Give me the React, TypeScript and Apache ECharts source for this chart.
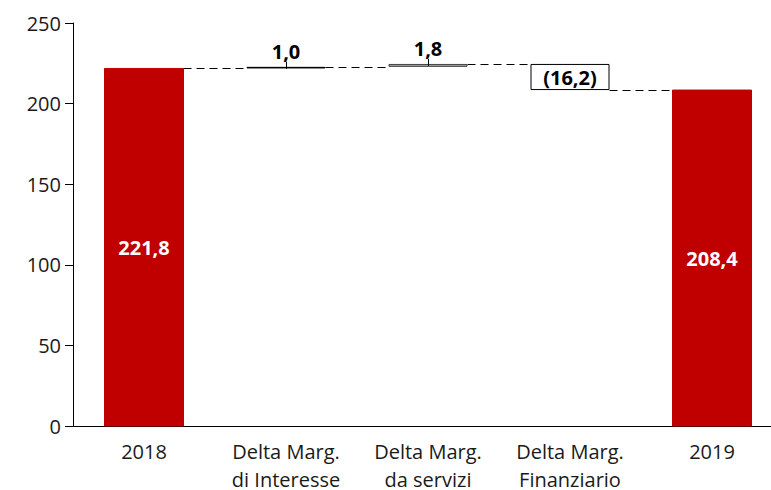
import React, { useEffect, useRef } from "react";
import * as echarts from "echarts";

const categories = ["2018", "Delta Marg.\ndi Interesse", "Delta Marg.\nda servizi", "Delta Marg.\nFinanziario", "2019"];
const deltas = [221.8, 1.0, 1.8, -16.2, 208.4];
const kinds = ["total", "delta", "delta", "delta", "total"];
const labelTexts = ["221,8", "1,0", "1,8", "(16,2)", "208,4"];

const FONT = "'Open Sans', 'Noto Sans', sans-serif";
const BAR_W = 79;

export default function App() {
  const ref = useRef<HTMLDivElement>(null);
  useEffect(() => {
    if (!ref.current) return;
    document.body.style.margin = "0";
    document.body.style.overflow = "hidden";
    document.documentElement.style.overflow = "hidden";
    const chart = echarts.init(ref.current, null, { renderer: "svg" });

    const bases: number[] = [];
    const heights: number[] = [];
    const levels: number[] = [];
    let run = 0;
    deltas.forEach((d, i) => {
      if (kinds[i] === "total") {
        bases.push(0);
        heights.push(d);
        run = d;
      } else if (d >= 0) {
        bases.push(run);
        heights.push(d);
        run = run + d;
      } else {
        bases.push(run + d);
        heights.push(-d);
        run = run + d;
      }
      levels.push(run);
    });
    const connectors: number[][] = [];
    for (let i = 0; i < deltas.length - 1; i++) {
      connectors.push([i, levels[i]]);
    }
    const leaders: number[][] = [];
    deltas.forEach((d, i) => {
      if (kinds[i] === "delta" && d >= 0) leaders.push([i, levels[i]]);
    });

    const styles = [
      { color: "#C00000", borderColor: "#C00000" },
      { color: "#000000", borderColor: "#000000", borderWidth: 1 },
      { color: "#A6A6A6", borderColor: "#404040", borderWidth: 1 },
      { color: "#FFFFFF", borderColor: "#000000", borderWidth: 1 },
      { color: "#C00000", borderColor: "#C00000" },
    ];

    const valueData = heights.map((h, i) => {
      const total = kinds[i] === "total";
      const neg = deltas[i] < 0;
      return {
        value: h,
        itemStyle: styles[i],
        label: {
          show: true,
          position: total || neg ? "inside" : "top",
          distance: 5,
          color: total ? "#FFFFFF" : "#000000",
          fontWeight: "bold",
          fontSize: 20,
          fontFamily: FONT,
          formatter: () => labelTexts[i],
        },
      };
    });

    chart.setOption({
      animation: false,
      backgroundColor: "#FFFFFF",
      grid: {
        left: 73,
        right: -12,
        top: 23,
        bottom: 64,
        containLabel: false,
        outerBoundsMode: "none",
      },
      xAxis: {
        type: "category",
        data: categories,
        axisLine: { show: true, lineStyle: { color: "#000000", width: 1 } },
        axisTick: { show: false },
        axisLabel: {
          color: "#1a1a1a",
          fontSize: 20,
          fontFamily: FONT,
          margin: 6,
          interval: 0,
          formatter: (v: string) => {
            const parts = v.split("\n");
            return parts.length > 1 ? `{a|${parts[0]}}\n{b|${parts[1]}}` : `{a|${parts[0]}}`;
          },
          rich: {
            a: { fontSize: 20, fontFamily: FONT, color: "#1a1a1a", lineHeight: 38 },
            b: { fontSize: 20, fontFamily: FONT, color: "#1a1a1a", lineHeight: 18 },
          },
        },
      },
      yAxis: {
        type: "value",
        min: 0,
        max: 250,
        interval: 50,
        splitLine: { show: false },
        axisLine: { show: true, lineStyle: { color: "#000000", width: 1 } },
        axisTick: { show: true, length: 8, lineStyle: { color: "#000000" } },
        axisLabel: {
          color: "#1a1a1a",
          fontSize: 20,
          fontFamily: FONT,
          margin: 12,
        },
      },
      series: [
        {
          type: "bar",
          stack: "w",
          barWidth: BAR_W,
          data: bases,
          itemStyle: { color: "transparent" },
          silent: true,
          z: 2,
        },
        {
          type: "bar",
          stack: "w",
          barWidth: BAR_W,
          data: valueData,
          z: 3,
        },
        {
          type: "custom",
          z: 1,
          data: connectors,
          renderItem: (params: any, api: any) => {
            const p = api.coord([api.value(0), api.value(1)]);
            const band = api.size([1, 0])[0];
            const y = Math.round(p[1]) + 0.5;
            return {
              type: "line",
              shape: {
                x1: p[0] + BAR_W / 2,
                y1: y,
                x2: p[0] + band - BAR_W / 2,
                y2: y,
              },
              style: { stroke: "#000000", lineWidth: 1, lineDash: [8, 5] },
            };
          },
        },
        {
          type: "custom",
          z: 4,
          data: leaders,
          renderItem: (params: any, api: any) => {
            const p = api.coord([api.value(0), api.value(1)]);
            const x = Math.round(p[0]) + 0.5;
            return {
              type: "line",
              shape: { x1: x, y1: p[1] - 5, x2: x, y2: p[1] + 2 },
              style: { stroke: "#000000", lineWidth: 1 },
            };
          },
        },
      ],
    });
    return () => chart.dispose();
  }, []);
  return <div ref={ref} style={{ width: 771, height: 490, display: "block" }} />;
}
